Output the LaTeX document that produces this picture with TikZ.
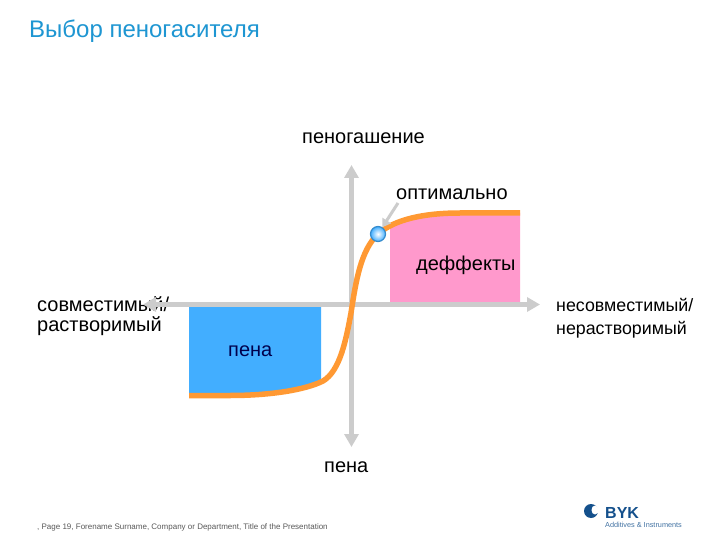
\documentclass[tikz,border=0pt]{standalone}
\usepackage{fontspec}
\setmainfont{Liberation Sans}
\usetikzlibrary{arrows.meta}
\definecolor{axisgray}{RGB}{204,204,204}
\definecolor{curveor}{RGB}{255,153,51}
\definecolor{foamblue}{RGB}{66,174,255}
\definecolor{defpink}{RGB}{255,153,204}
\definecolor{titleblue}{RGB}{30,150,210}
\definecolor{byk}{RGB}{20,80,140}
\tikzset{
 lbl/.style={inner sep=0pt,font=\fontsize{#1}{#1}\selectfont,text=black,anchor=base west,align=left},
 axisline/.style={draw=axisgray,line width=5pt,-{Triangle[length=13pt,width=14pt]}},
 curveline/.style={draw=curveor,line width=5.5pt},
}
\begin{document}
\begin{tikzpicture}[x=1pt,y=-1pt]
\useasboundingbox (0,0) rectangle (720,540);
\fill[white] (0,0) rectangle (720,540);
% text under the axis
\node[lbl=20] (compat) at (37,311) {совместимый/};
\node[lbl=20] (sol) at (37,331) {растворимый};
% fills
\fill[foamblue] (189,307) -- (321,307) -- (321,382) .. controls (303,390) and (270,394) .. (240,394) -- (189,394) -- cycle;
\fill[defpink] (390,225) .. controls (405,217) and (425,213) .. (450,213) -- (520,213) -- (520,303) -- (390,303) -- cycle;
% axes
\coordinate (o) at (351.5,304.5);
\coordinate (xl) at (143,304.5);
\coordinate (xr) at (540,304.5);
\coordinate (yt) at (351.5,165);
\coordinate (yb) at (351.5,447);
\draw[axisline] (o) -- (xl);
\draw[axisline] (o) -- (xr);
\draw[axisline] (o) -- (yt);
\draw[axisline] (o) -- (yb);
% curve
\draw[curveline] (189,395.5) -- (230,395.5) .. controls (270,395.5) and (305,390) .. (323,381)
  .. controls (340,371) and (346,340) .. (351,313)
  .. controls (356,280) and (361,250) .. (378,234)
  .. controls (395,219) and (425,213) .. (460,213) -- (520,213);
% marker
\node[circle,minimum size=15pt,inner sep=0pt,draw=foamblue!80!black,line width=1.2pt,inner color=white,outer color=foamblue] (opt) at (378,234) {};
\coordinate (optlab) at (398,203);
\draw[draw=axisgray,line width=3pt,-{Triangle[length=8pt,width=10pt]}] (optlab) -- (opt);
% labels
\node[inner sep=0pt,font=\fontsize{24}{24}\selectfont,text=titleblue,anchor=base west] (title) at (29,37.5) {Выбор пеногасителя};
\node[lbl=20] (yp) at (302,144) {пеногашение};
\node[lbl=20] (optl) at (396,200) {оптимально};
\node[lbl=20] (def) at (416,270) {деффекты};
\node[lbl=20] (foam) at (228,356) {\textcolor{black!70!blue}{пена}};
\node[lbl=20] (yn) at (324,472) {пена};
\node[lbl=17.8] (inc) at (556,311) {несовместимый/};
\node[lbl=17.8] (insol) at (556,334.5) {нерастворимый};
\node[inner sep=0pt,font=\fontsize{8}{8}\selectfont,text=black!65,anchor=base west] (foot) at (37,529) {, Page 19, Forename Surname, Company or Department, Title of the Presentation};
% logo
\fill[byk] (591,511) circle (7);
\fill[white] (595,510) ellipse (3.5 and 4.5);
\fill[white] (598,511) circle (2.2);
\node[inner sep=0pt,font=\fontsize{16}{16}\selectfont\bfseries,text=byk,anchor=base west] (bk) at (605,518) {BYK};
\node[inner sep=0pt,font=\fontsize{7.3}{7.3}\selectfont,text=byk!80,anchor=base west] (add) at (605,527) {Additives \& Instruments};
\end{tikzpicture}
\end{document}
